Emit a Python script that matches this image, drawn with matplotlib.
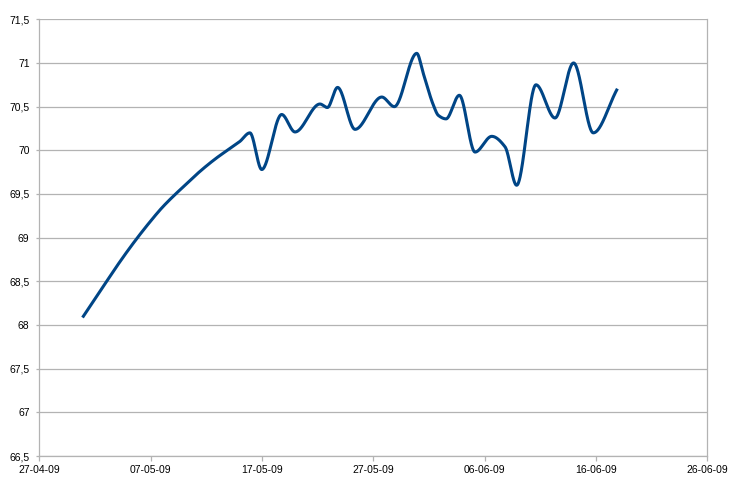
import numpy as np
import pandas as pd
import matplotlib
matplotlib.use("Agg")
import matplotlib.pyplot as plt
import matplotlib.dates as mdates
from matplotlib.ticker import FixedLocator, FuncFormatter

# values
dates = [
    "2009-04-30 23:00", "2009-05-02 00:00", "2009-05-03 00:00", "2009-05-04 00:00",
    "2009-05-05 00:00", "2009-05-06 00:00", "2009-05-07 00:00", "2009-05-08 00:00",
    "2009-05-09 00:00", "2009-05-10 00:00", "2009-05-11 00:00", "2009-05-12 00:00",
    "2009-05-13 00:00", "2009-05-14 00:00", "2009-05-15 00:00", "2009-05-15 22:00",
    "2009-05-16 23:30", "2009-05-18 18:30", "2009-05-19 23:15", "2009-05-22 05:00",
    "2009-05-22 21:00", "2009-05-23 19:00", "2009-05-25 08:40", "2009-05-27 18:15",
    "2009-05-28 21:20", "2009-05-30 21:40", "2009-05-31 11:45", "2009-06-01 09:20",
    "2009-06-01 20:10", "2009-06-02 12:45", "2009-06-03 17:30", "2009-06-05 03:20",
    "2009-06-06 15:20", "2009-06-07 20:00", "2009-06-08 21:00", "2009-06-10 14:40",
    "2009-06-12 07:40", "2009-06-13 23:45", "2009-06-15 18:15", "2009-06-17 20:40",
]
values = [
    68.10, 68.30, 68.49, 68.68,
    68.86, 69.03, 69.19, 69.34,
    69.47, 69.59, 69.71, 69.82,
    69.92, 70.01, 70.10, 70.20,
    69.78, 70.41, 70.21, 70.53,
    70.49, 70.72, 70.24, 70.61,
    70.50, 71.11, 70.88, 70.52,
    70.40, 70.36, 70.63, 69.98,
    70.16, 70.04, 69.60, 70.75,
    70.37, 71.00, 70.20, 70.69,
]
xticks = pd.date_range("2009-04-27", "2009-06-26", freq="10D")
yticks = np.arange(66.5, 71.51, 0.5)


def pchip(x, y, xs):
    # shape preserving cubic (Fritsch-Carlson), like the smoothed line
    h = np.diff(x)
    d = np.diff(y) / h
    m = np.zeros_like(y)
    for k in range(1, len(x) - 1):
        if d[k - 1] * d[k] > 0:
            w1 = 2 * h[k] + h[k - 1]
            w2 = h[k] + 2 * h[k - 1]
            m[k] = (w1 + w2) / (w1 / d[k - 1] + w2 / d[k])
    m[0] = d[0]
    m[-1] = d[-1]
    i = np.clip(np.searchsorted(x, xs) - 1, 0, len(x) - 2)
    t = (xs - x[i]) / h[i]
    h00 = 2 * t**3 - 3 * t**2 + 1
    h10 = t**3 - 2 * t**2 + t
    h01 = -2 * t**3 + 3 * t**2
    h11 = t**3 - t**2
    return h00 * y[i] + h10 * h[i] * m[i] + h01 * y[i + 1] + h11 * h[i] * m[i + 1]


xn = mdates.date2num(pd.to_datetime(dates))
yv = np.array(values)
xs = np.linspace(xn[0], xn[-1], 2000)
ys = pchip(xn, yv, xs)

plt.rcParams['font.family'] = ['Liberation Sans', 'DejaVu Sans']
grey = '#b3b3b3'

fig = plt.figure(figsize=(7.36, 4.95), dpi=100)
ax = fig.add_axes([39.3 / 736, 1 - 456 / 495, 668 / 736, (456 - 19.3) / 495])
ax.plot(xs, ys, color='#004586', lw=2.2, solid_joinstyle='round')

ax.set_xlim(mdates.date2num(xticks[0]), mdates.date2num(xticks[-1]))
ax.set_ylim(66.5, 71.5)
ax.xaxis.set_major_locator(FixedLocator(mdates.date2num(xticks)))
ax.xaxis.set_major_formatter(mdates.DateFormatter('%d-%m-%y'))
ax.yaxis.set_major_locator(FixedLocator(yticks))
ax.yaxis.set_major_formatter(FuncFormatter(lambda v, p: ('%g' % v).replace('.', ',')))

ax.grid(axis='y', color=grey, lw=0.9)
ax.set_axisbelow(True)
for s in ax.spines.values():
    s.set_color(grey)
    s.set_linewidth(0.9)
ax.spines['top'].set_visible(False)
ax.tick_params(axis='x', length=3.5, width=0.9, color=grey, labelsize=7.5, pad=3)
ax.tick_params(axis='y', length=2, width=0.9, color=grey, labelsize=7.5, pad=5)

fig.savefig('out.png', dpi=100)
